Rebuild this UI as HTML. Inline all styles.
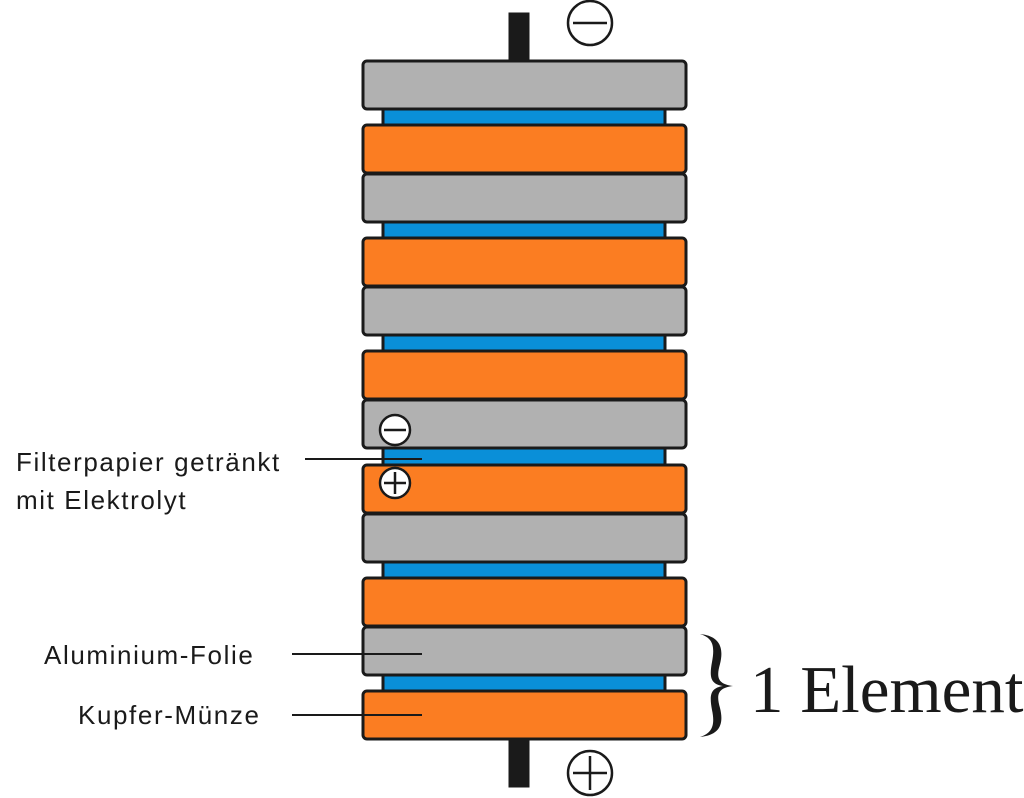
<!DOCTYPE html>
<html><head><meta charset="utf-8"><style>html,body{margin:0;padding:0;background:#fff}svg{display:block}</style></head>
<body>
<svg width="1024" height="798" viewBox="0 0 1024 798" xmlns="http://www.w3.org/2000/svg">
<g stroke="#1a1a1a" stroke-width="3">
<rect x="510" y="14" width="18" height="50" fill="#1a1a1a"/>
<rect x="510" y="738" width="18" height="48" fill="#1a1a1a"/>
<rect x="383" y="106" width="282" height="22" fill="#0a8fd8"/>
<rect x="383" y="219" width="282" height="22" fill="#0a8fd8"/>
<rect x="383" y="332" width="282" height="22" fill="#0a8fd8"/>
<rect x="383" y="445" width="282" height="22" fill="#0a8fd8"/>
<rect x="383" y="559" width="282" height="22" fill="#0a8fd8"/>
<rect x="383" y="672" width="282" height="22" fill="#0a8fd8"/>
<rect x="363" y="61" width="323" height="48" rx="4" fill="#b1b1b1"/>
<rect x="363" y="125" width="323" height="48" rx="4" fill="#fb7d22"/>
<rect x="363" y="174" width="323" height="48" rx="4" fill="#b1b1b1"/>
<rect x="363" y="238" width="323" height="48" rx="4" fill="#fb7d22"/>
<rect x="363" y="287" width="323" height="48" rx="4" fill="#b1b1b1"/>
<rect x="363" y="351" width="323" height="48" rx="4" fill="#fb7d22"/>
<rect x="363" y="400" width="323" height="48" rx="4" fill="#b1b1b1"/>
<rect x="363" y="465" width="323" height="48" rx="4" fill="#fb7d22"/>
<rect x="363" y="514" width="323" height="48" rx="4" fill="#b1b1b1"/>
<rect x="363" y="578" width="323" height="48" rx="4" fill="#fb7d22"/>
<rect x="363" y="627" width="323" height="48" rx="4" fill="#b1b1b1"/>
<rect x="363" y="691" width="323" height="48" rx="4" fill="#fb7d22"/>
</g>
<g stroke="#1a1a1a" stroke-width="2.5" fill="#fff">
<circle cx="590" cy="23" r="22"/>
<line x1="573" y1="23" x2="607" y2="23"/>
<circle cx="590" cy="773" r="22"/>
<line x1="573" y1="773" x2="607" y2="773"/><line x1="590" y1="756" x2="590" y2="790"/>
<circle cx="395" cy="430" r="15"/>
<line x1="384" y1="430" x2="406" y2="430"/>
<circle cx="395" cy="483" r="15"/>
<line x1="384" y1="483" x2="406" y2="483"/><line x1="395" y1="472" x2="395" y2="494"/>
</g>
<g stroke="#1a1a1a" stroke-width="2">
<line x1="305" y1="459" x2="422" y2="459"/>
<line x1="292" y1="654" x2="422" y2="654"/>
<line x1="292" y1="715" x2="422" y2="715"/>
</g>
<path d="M700 634 C720 636 724 648 720 664 C716 678 718 684 733 686 C718 688 716 694 720 708 C724 724 720 735 700 737 C713 733 715 724 712 710 C709 694 711 688 723 686 C711 684 709 678 712 662 C715 646 713 638 700 634 Z" fill="#1a1a1a"/>
<g font-family="'Liberation Sans', sans-serif" font-size="26" letter-spacing="1.6" fill="#1a1a1a">
<text x="16" y="471">Filterpapier getränkt</text>
<text x="16" y="509">mit Elektrolyt</text>
<text x="44" y="664">Aluminium-Folie</text>
<text x="78" y="724">Kupfer-Münze</text>
</g>
<text x="750" y="712" font-family="'Liberation Serif', serif" font-size="67" fill="#1a1a1a">1 Element</text>
</svg>
</body></html>
